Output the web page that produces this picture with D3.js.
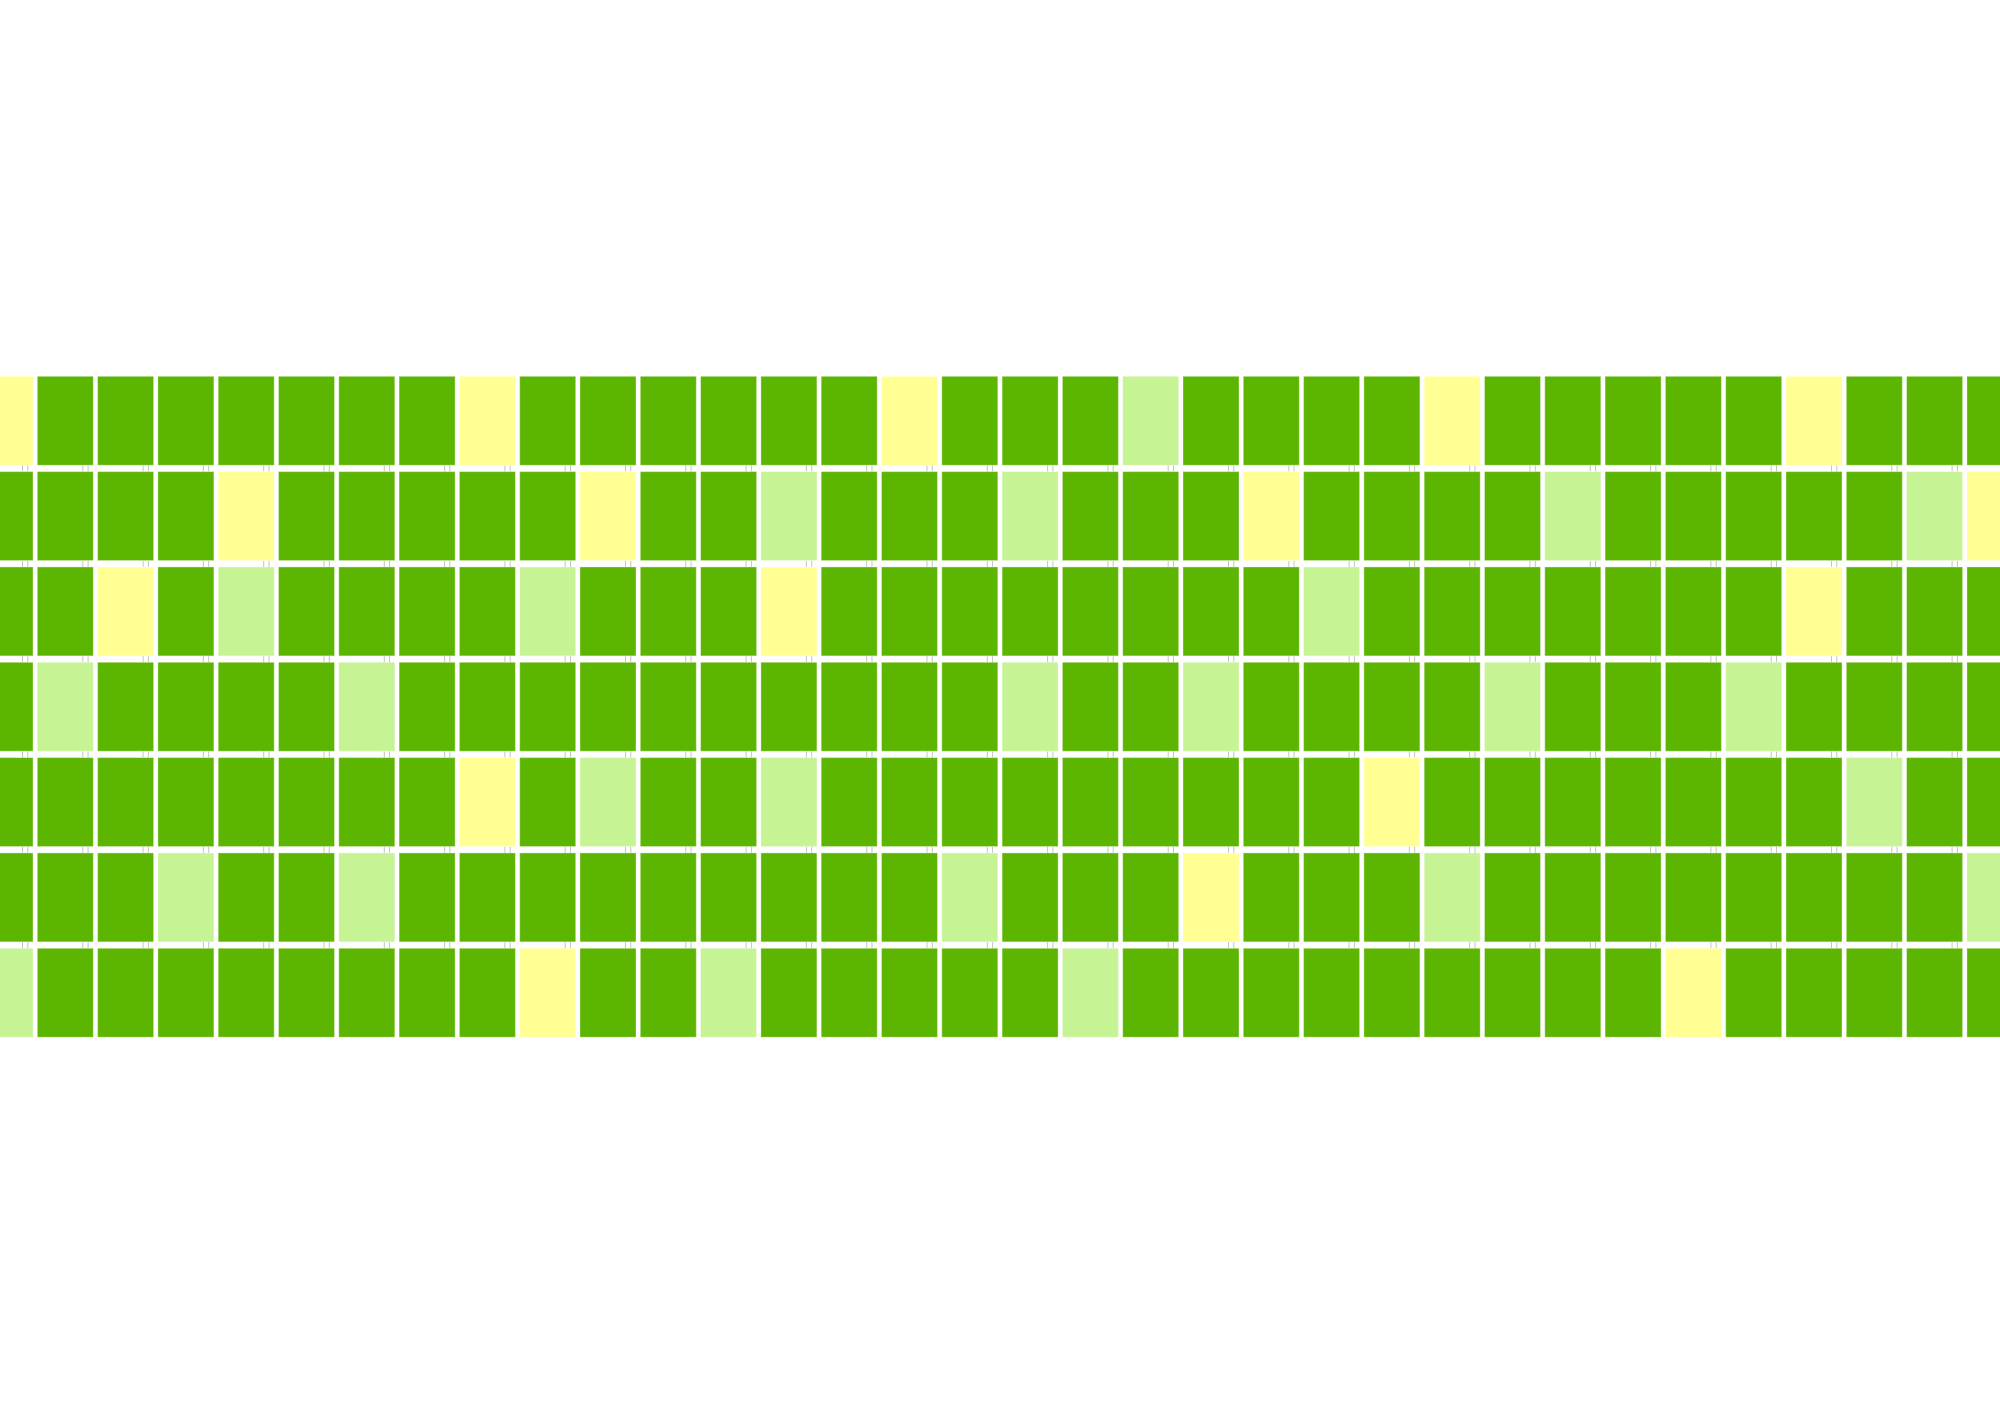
<!DOCTYPE html>
<html>
<head>
<meta charset="utf-8">
<script src="https://cdn.jsdelivr.net/npm/d3@7"></script>
<style>
  html, body { margin: 0; padding: 0; background: #ffffff; overflow: hidden; }
  svg { display: block; }
</style>
</head>
<body>
<svg id="chart" width="2000" height="1414"></svg>
<script>
// Level codes: "Y" = low (yellow), "L" = medium (light green), "G" = high (green)
const levels = ["Y", "L", "G"];
const levelColors = ["#ffff94", "#c6f394", "#5cb500"];

const weekColumns = d3.range(34);
const dayRows = [0, 1, 2, 3, 4, 5, 6];

const row0 = ["Y","G","G","G","G","G","G","G","Y","G","G","G","G","G","G","Y","G","G","G","L","G","G","G","G","Y","G","G","G","G","G","Y","G","G","G"];
const row1 = ["G","G","G","G","Y","G","G","G","G","G","Y","G","G","L","G","G","G","L","G","G","G","Y","G","G","G","G","L","G","G","G","G","G","L","Y"];
const row2 = ["G","G","Y","G","L","G","G","G","G","L","G","G","G","Y","G","G","G","G","G","G","G","G","L","G","G","G","G","G","G","G","Y","G","G","G"];
const row3 = ["G","L","G","G","G","G","L","G","G","G","G","G","G","G","G","G","G","L","G","G","L","G","G","G","G","L","G","G","G","L","G","G","G","G"];
const row4 = ["G","G","G","G","G","G","G","G","Y","G","L","G","G","L","G","G","G","G","G","G","G","G","G","Y","G","G","G","G","G","G","G","L","G","G"];
const row5 = ["G","G","G","L","G","G","L","G","G","G","G","G","G","G","G","G","L","G","G","G","Y","G","G","G","L","G","G","G","G","G","G","G","G","L"];
const row6 = ["L","G","G","G","G","G","G","G","G","Y","G","G","L","G","G","G","G","G","L","G","G","G","G","G","G","G","G","G","Y","G","G","G","G","G"];

const rowsData = [row0, row1, row2, row3, row4, row5, row6];

const cells = [];
rowsData.forEach((row, r) => row.forEach((v, c) => cells.push({ r, c, v })));

const svg = d3.select("#chart");

const x = d3.scaleBand()
  .domain(weekColumns)
  .range([-23, 2022.9])
  .paddingInner(0.0713)
  .paddingOuter(0);

const y = d3.scaleBand()
  .domain(dayRows)
  .range([376.3, 1037.2])
  .paddingInner(0.067)
  .paddingOuter(0);

const color = d3.scaleOrdinal().domain(levels).range(levelColors);

// small grey tick marks in the gaps between rows
const marks = svg.append("g").attr("class", "marks");
const gapCells = cells.filter(d => d.r < dayRows.length - 1);
[45.5, 50.8].forEach(off => {
  marks.selectAll(null)
    .data(gapCells)
    .join("line")
    .attr("x1", d => x(d.c) + off)
    .attr("x2", d => x(d.c) + off)
    .attr("y1", d => y(d.r) + y.bandwidth())
    .attr("y2", d => y(d.r + 1))
    .attr("stroke", "#c4c4c4")
    .attr("stroke-width", 1);
});

svg.append("g").attr("class", "cells")
  .selectAll("rect")
  .data(cells)
  .join("rect")
  .attr("x", d => x(d.c))
  .attr("y", d => y(d.r))
  .attr("width", x.bandwidth())
  .attr("height", y.bandwidth())
  .attr("fill", d => color(d.v))
  .attr("stroke", "rgba(255,255,255,0.35)")
  .attr("stroke-width", 1);
</script>
</body>
</html>
